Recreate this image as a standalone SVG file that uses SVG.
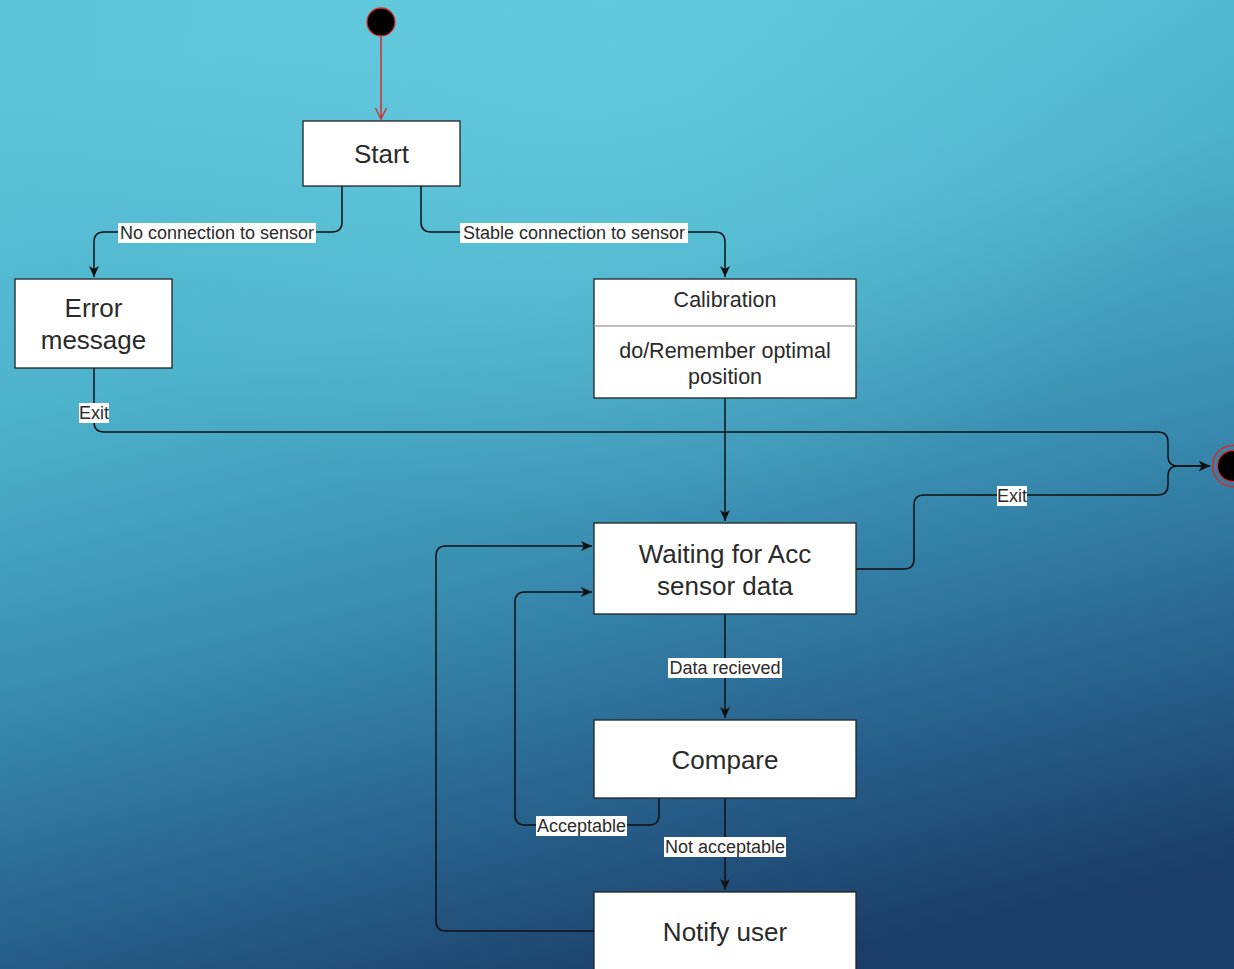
<svg xmlns="http://www.w3.org/2000/svg" width="1234" height="969" viewBox="0 0 1234 969">
<defs>
<linearGradient id="bg" x1="0.35" y1="0" x2="0.65" y2="1">
<stop offset="0" stop-color="#5cc4d9"/>
<stop offset="0.3" stop-color="#4db2cb"/>
<stop offset="0.55" stop-color="#3a8fb2"/>
<stop offset="0.78" stop-color="#28648f"/>
<stop offset="1" stop-color="#1a3c66"/>
</linearGradient>
<radialGradient id="hl" cx="0.5" cy="0.05" r="0.5">
<stop offset="0" stop-color="#6ad0e2" stop-opacity="0.6"/>
<stop offset="1" stop-color="#6ad0e2" stop-opacity="0"/>
</radialGradient>
<marker id="arr" markerUnits="userSpaceOnUse" markerWidth="12" markerHeight="10" refX="11" refY="5" orient="auto">
<path d="M0,0 L11,5 L0,10 L3,5 Z" fill="#111"/>
</marker>
<marker id="open" markerUnits="userSpaceOnUse" markerWidth="12" markerHeight="12" refX="11" refY="6" orient="auto">
<path d="M0,0.5 L11,6 L0,11.5" fill="none" stroke="#d42b2b" stroke-width="1.3"/>
</marker>
</defs>
<style>
.box{fill:#fff;stroke:#222;stroke-width:1.3}
.t{font-family:"Liberation Sans",Arial,sans-serif;font-size:26px;fill:#2a2a2a;text-anchor:middle;dominant-baseline:central}
.tm{font-family:"Liberation Sans",Arial,sans-serif;font-size:21.5px;fill:#2a2a2a;text-anchor:middle;dominant-baseline:central}
.c{fill:none;stroke:#111;stroke-width:1.5}
.lb{fill:#fff}
.l{font-family:"Liberation Sans",Arial,sans-serif;font-size:18px;fill:#2a2a2a;text-anchor:middle;dominant-baseline:central}
</style>
<rect width="1234" height="969" fill="url(#bg)"/>
<rect width="1234" height="969" fill="url(#hl)"/>

<g id="connectors">
<path class="c" d="M381,37 V119" stroke="#d42b2b" style="stroke:#d42b2b" marker-end="url(#open)"/>
<path class="c" d="M342,186 V222 Q342,232 332,232 H104 Q94,232 94,242 V277" marker-end="url(#arr)"/>
<path class="c" d="M421,186 V222 Q421,232 431,232 H715 Q725,232 725,242 V277" marker-end="url(#arr)"/>
<path class="c" d="M94,368 V422 Q94,432 104,432 H1158 Q1168,432 1168,442 V456 Q1168,466 1178,466 H1210" marker-end="url(#arr)"/>
<path class="c" d="M725,398 V521" marker-end="url(#arr)"/>
<path class="c" d="M856,569 H904 Q914,569 914,559 V505 Q914,495 924,495 H1158 Q1168,495 1168,485 V476 Q1168,466 1178,466 H1210" marker-end="url(#arr)"/>
<path class="c" d="M725,614 V718" marker-end="url(#arr)"/>
<path class="c" d="M659,798 V815 Q659,825 649,825 H525 Q515,825 515,815 V602 Q515,592 525,592 H592" marker-end="url(#arr)"/>
<path class="c" d="M725,798 V890" marker-end="url(#arr)"/>
<path class="c" d="M594,931 H446 Q436,931 436,921 V556 Q436,546 446,546 H592" marker-end="url(#arr)"/>

<rect class="lb" x="118" y="223" width="198" height="20"/>
<text class="l" x="217" y="233">No connection to sensor</text>
<rect class="lb" x="460" y="223" width="228" height="20"/>
<text class="l" x="574" y="233">Stable connection to sensor</text>
<rect class="lb" x="79" y="403" width="30" height="20"/>
<text class="l" x="94" y="413">Exit</text>
<rect class="lb" x="997" y="486" width="30" height="20"/>
<text class="l" x="1012" y="496">Exit</text>
<rect class="lb" x="668" y="658" width="114" height="20"/>
<text class="l" x="725" y="668">Data recieved</text>
<rect class="lb" x="536" y="816" width="91" height="20"/>
<text class="l" x="581.5" y="826">Acceptable</text>
<rect class="lb" x="664" y="837" width="122" height="20"/>
<text class="l" x="725" y="847">Not acceptable</text>
</g>

<g id="initial">
<circle cx="381" cy="22" r="14" fill="#000" stroke="#d42b2b" stroke-width="1.3"/>
</g>
<g id="final">
<circle cx="1233" cy="466" r="20.5" fill="none" stroke="#d42b2b" stroke-width="1.5"/>
<circle cx="1233" cy="466" r="15.5" fill="#000" stroke="#d42b2b" stroke-width="1.3"/>
</g>
<g id="start">
<rect class="box" x="303" y="121" width="157" height="65"/>
<text class="t" x="381.5" y="154">Start</text>
</g>
<g id="error">
<rect class="box" x="15" y="279" width="157" height="89"/>
<text class="t" x="93.5" y="308">Error</text>
<text class="t" x="93.5" y="340">message</text>
</g>
<g id="calibration">
<rect class="box" x="594" y="279" width="262" height="119"/>
<line x1="594" y1="326" x2="856" y2="326" stroke="#aaa" stroke-width="1.3"/>
<text class="tm" x="725" y="300">Calibration</text>
<text class="tm" x="725" y="351">do/Remember optimal</text>
<text class="tm" x="725" y="377">position</text>
</g>
<g id="waiting">
<rect class="box" x="594" y="523" width="262" height="91"/>
<text class="t" x="725" y="554">Waiting for Acc</text>
<text class="t" x="725" y="586">sensor data</text>
</g>
<g id="compare">
<rect class="box" x="594" y="720" width="262" height="78"/>
<text class="t" x="725" y="760">Compare</text>
</g>
<g id="notify">
<rect class="box" x="594" y="892" width="262" height="90"/>
<text class="t" x="725" y="932">Notify user</text>
</g>
</svg>
